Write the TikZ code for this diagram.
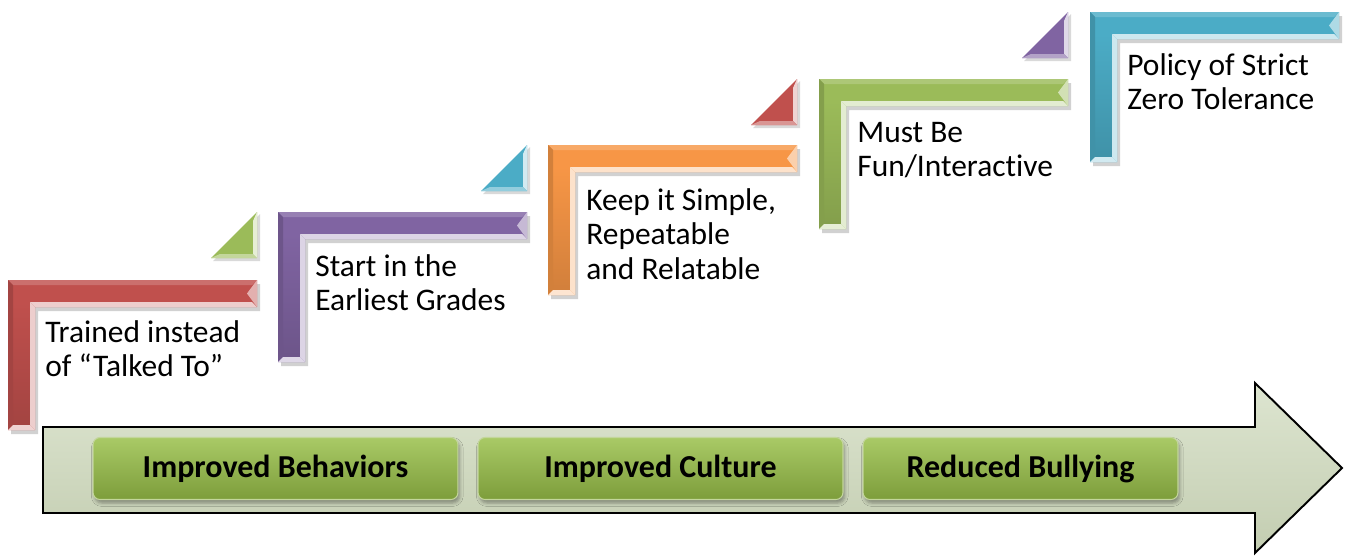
\documentclass[tikz,border=0pt]{standalone}
\usepackage{fontspec}
\setmainfont{Carlito}[Ligatures={NoCommon,NoDiscretionary}]
\usetikzlibrary{shadows.blur}
\definecolor{cred}{HTML}{C0504D}
\definecolor{cpurple}{HTML}{8064A2}
\definecolor{corange}{HTML}{F79646}
\definecolor{cgreen}{HTML}{9BBB59}
\definecolor{cblue}{HTML}{4BACC6}
\definecolor{arrtop}{HTML}{DDE5D0}
\definecolor{arrbot}{HTML}{C3CDB1}
\definecolor{btntop}{HTML}{A9CA66}
\definecolor{btnbot}{HTML}{7D9D3B}
\newcommand\twolines[1]{\vtop{\baselineskip=19.8pt\relax #1}}
\tikzset{
  lbl/.style={font=\fontsize{17.9}{19.8}\selectfont, inner sep=0pt, text=black, anchor=base west},
  btn/.style={font=\fontsize{18.2}{21}\selectfont\bfseries, rounded corners=4pt, top color=btntop, bottom color=btnbot,
     draw=cgreen!60!white, line width=0.6pt, minimum height=1.24cm, inner sep=0pt,
     blur shadow={shadow xshift=1pt, shadow yshift=-2pt, shadow opacity=35}},
  bigarrow/.style={draw=black, line width=1.1pt, top color=arrtop, bottom color=arrbot}
}
\newcommand\stepL[2]{%
\begin{scope}[shift={#1}]
 \fill[black, opacity=.18] (3,4) -- (252,4) -- (252,31) -- (30,31) -- (30,154) -- (3,154) -- cycle;
 \fill[#2] (0,0) -- (249,0) -- (249,27) -- (27,27) -- (27,150) -- (0,150) -- cycle;
 \shade[top color=#2, bottom color=#2!85!black] (5,22) rectangle (22,145);
 \fill[#2!82!white] (0,0) -- (249,0) -- (244,5) -- (5,5) -- cycle;
 \fill[#2!85!black] (0,0) -- (5,5) -- (5,145) -- (0,150) -- cycle;
 \fill[#2!28!white] (27,27) -- (249,27) -- (244,22) -- (22,22) -- cycle;
 \fill[#2!28!white] (27,27) -- (22,22) -- (22,145) -- (27,150) -- cycle;
 \fill[#2!45!white] (249,0) -- (249,27) -- (239,13.5) -- cycle;
 \fill[#2!25!white] (0,150) -- (27,150) -- (22,145) -- (5,145) -- cycle;
\end{scope}}
\newcommand\stepT[2]{%
\begin{scope}[shift={#1}]
 \fill[black, opacity=.15] (-44,3) -- (3,-44) -- (3,3) -- cycle;
 \fill[#2] (-46,0) -- (0,-46) -- (0,0) -- cycle;
 \fill[#2!25!white] (0,-46) -- (0,0) -- (-4,-4) -- (-4,-37) -- cycle;
 \fill[#2!60!white] (-46,0) -- (0,0) -- (-4,-4) -- (-37,-4) -- cycle;
\end{scope}}
\begin{document}
\begin{tikzpicture}[x=0.02cm, y=-0.02cm]
\useasboundingbox (0,0) rectangle (1348,555);
% big arrow
\path[bigarrow] (43,427) -- (1255,427) -- (1255,383) -- (1342,468) -- (1255,553) -- (1255,513) -- (43,513) -- cycle;
% steps
\stepL{(8,280)}{cred}
\stepL{(278,212)}{cpurple}
\stepL{(548,145)}{corange}
\stepL{(819,79)}{cgreen}
\stepL{(1090,12)}{cblue}
% triangles
\stepT{(257,258)}{cgreen}
\stepT{(527,191)}{cblue}
\stepT{(797,125)}{cred}
\stepT{(1068,58)}{cpurple}
% step labels
\node[lbl] (t1) at (45,342) {\twolines{\hbox{Trained instead}\hbox{of “Talked To”}}};
\node[lbl] (t2) at (315,276) {\twolines{\hbox{Start in the}\hbox{Earliest Grades}}};
\node[lbl] (t3) at (586,210) {\twolines{\hbox{Keep it Simple,}\hbox{Repeatable}\hbox{and Relatable}}};
\node[lbl] (t4) at (857,142) {\twolines{\hbox{Must Be}\hbox{Fun/Interactive}}};
\node[lbl] (t5) at (1127,75) {\twolines{\hbox{Policy of Strict}\hbox{Zero Tolerance}}};
% buttons
\node[btn, minimum width=7.3cm] (b1) at (275.5,468.5) {Improved Behaviors};
\node[btn, minimum width=7.3cm] (b2) at (660.5,468.5) {Improved Culture};
\node[btn, minimum width=6.3cm] (b3) at (1020.5,468.5) {Reduced Bullying};
\end{tikzpicture}
\end{document}
